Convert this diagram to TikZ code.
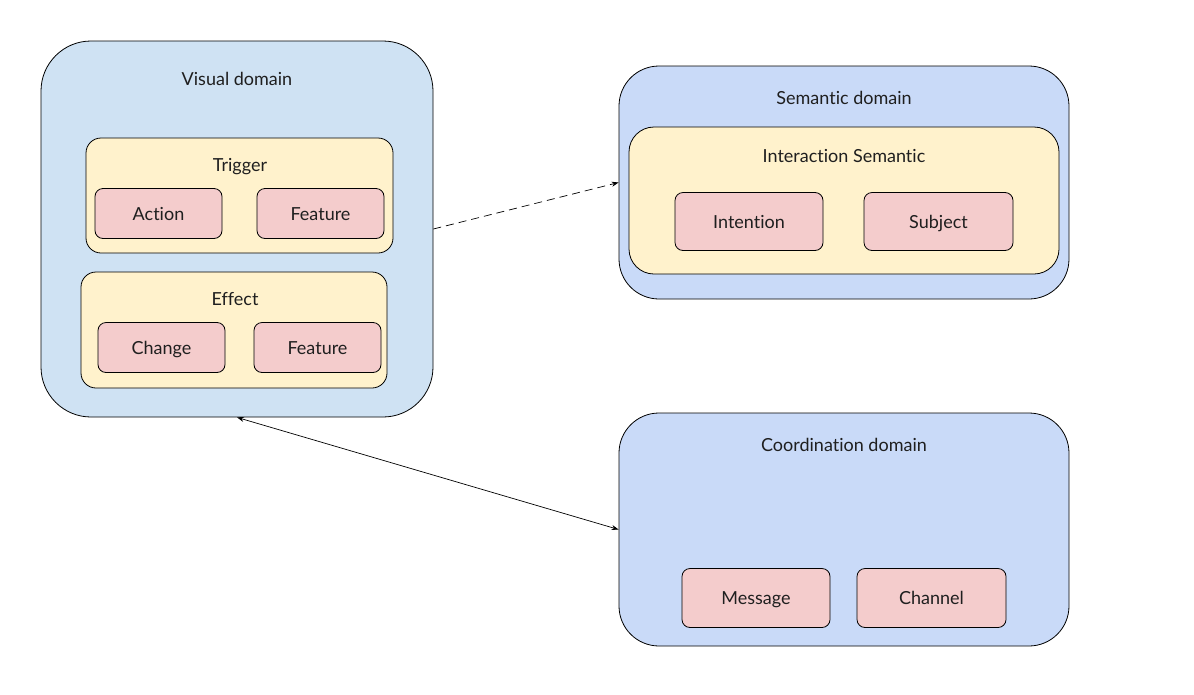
\documentclass[tikz,border=0pt]{standalone}
\usepackage{fontspec}
\setmainfont[Ligatures=NoCommon]{Lato}
\usetikzlibrary{arrows.meta}
\definecolor{visblue}{HTML}{CFE2F3}
\definecolor{semblue}{HTML}{C9DAF8}
\definecolor{ylw}{HTML}{FFF2CC}
\definecolor{pnk}{HTML}{F4CCCC}
\definecolor{txt}{HTML}{1F1F1F}
\begin{document}
\begin{tikzpicture}[x=1pt,y=-1pt,
  every node/.style={font=\fontsize{18}{21}\selectfont, text=txt, text height=13pt, text depth=0pt},
  dombox/.style={draw=black, line width=0.8pt, inner sep=0pt},
  grpbox/.style={draw=black, line width=0.8pt, fill=ylw, inner sep=0pt},
  itembox/.style={draw=black, line width=0.8pt, fill=pnk, rounded corners=8pt, inner sep=0pt},
  ttlbox/.style={inner sep=0pt, anchor=center},
  conn/.style={line width=0.7pt, -{Stealth[length=7pt,width=5pt]}}
]
\useasboundingbox (0,0) rectangle (1194,694);
% Visual domain
\node[dombox, fill=visblue, rounded corners=50pt, minimum width=392pt, minimum height=376pt] (vis) at (237,229) {};
\node[ttlbox] (vist) at (237,79) {Visual domain};
\node[grpbox, rounded corners=15pt, minimum width=307pt, minimum height=115pt] (trig) at (239.5,195.5) {};
\node[ttlbox] (trigt) at (240,165) {Trigger};
\node[itembox, minimum width=127pt, minimum height=50pt] (act) at (158.5,213.5) {Action};
\node[itembox, minimum width=127pt, minimum height=50pt] (feat1) at (320.5,213.5) {Feature};
\node[grpbox, rounded corners=15pt, minimum width=306pt, minimum height=116pt] (eff) at (234,330) {};
\node[ttlbox] (efft) at (235,299) {Effect};
\node[itembox, minimum width=127pt, minimum height=50pt] (chg) at (161.5,347.5) {Change};
\node[itembox, minimum width=127pt, minimum height=50pt] (feat2) at (317.5,347.5) {Feature};
% Semantic domain
\node[dombox, fill=semblue, rounded corners=40pt, minimum width=450pt, minimum height=233pt] (sem) at (844,182.5) {};
\node[ttlbox] (semt) at (844,98) {Semantic domain};
\node[grpbox, rounded corners=25pt, minimum width=430pt, minimum height=147pt] (isem) at (844,200.5) {};
\node[ttlbox] (isemt) at (844,156) {Interaction Semantic};
\node[itembox, minimum width=148pt, minimum height=58pt] (intn) at (749,221.5) {Intention};
\node[itembox, minimum width=149pt, minimum height=58pt] (subj) at (938.5,221.5) {Subject};
% Coordination domain
\node[dombox, fill=semblue, rounded corners=40pt, minimum width=450pt, minimum height=233pt] (coord) at (844,529.5) {};
\node[ttlbox] (coordt) at (844,445) {Coordination domain};
\node[itembox, minimum width=148pt, minimum height=59pt] (msg) at (756,598) {Message};
\node[itembox, minimum width=149pt, minimum height=59pt] (chan) at (931.5,598) {Channel};
% Connectors
\draw[conn, dash pattern=on 8pt off 5pt] (vis.east) -- (sem.west);
\draw[line width=0.7pt, {Stealth[length=7pt,width=5pt]}-{Stealth[length=7pt,width=5pt]}] (vis.south) -- (coord.west);
\end{tikzpicture}
\end{document}
